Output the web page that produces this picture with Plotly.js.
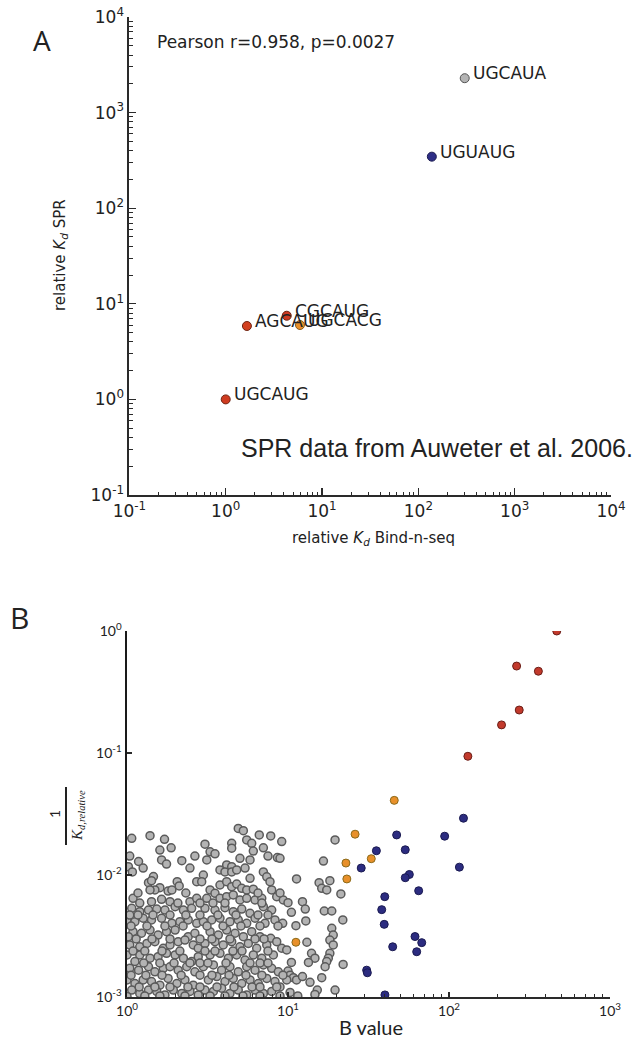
<!DOCTYPE html>
<html><head><meta charset="utf-8">
<script src="https://cdn.plot.ly/plotly-3.0.1.min.js"></script>
<style>html,body{margin:0;padding:0;background:#fff;}#chart{width:641px;height:1044px;}</style>
</head><body><div id="chart"></div>
<script>
// ---------- Panel A data ----------
const motifs = ['UGCAUG','AGCAUG','CGCAUG','UGCACG','UGUAUG','UGCAUA'];
const kdBindNSeq = [1.0, 1.66, 4.3, 5.9, 138, 303];
const kdSPR = [1.0, 5.86, 7.5, 6.0, 346, 2290];
const motifColors = ['#cf3b20','#d2401f','#cc3a22','#e8902a','#2e2e86','#b4b4b4'];
const motifEdges = ['#6e2412','#6e2412','#6e2412','#8a5a1a','#1a1a50','#555555'];
const tickValsA = [0.1, 1, 10, 100, 1000, 10000];
const tickTextA = ['10<sup>-1</sup>','10<sup>0</sup>','10<sup>1</sup>','10<sup>2</sup>','10<sup>3</sup>','10<sup>4</sup>'];

// ---------- Panel B data ----------
const redB = [467, 263, 359, 273, 212, 131];
const redK = [1.0, 0.516, 0.468, 0.225, 0.170, 0.094];
const orangeB = [45.7, 26.1, 32.9, 22.9, 23.2, 11.2];
const orangeK = [0.0409, 0.0216, 0.0136, 0.01253, 0.00928, 0.00281];
const blueB = [123, 47.3, 94, 35.4, 53.5, 28.5, 116, 56.7, 53.5, 64.8, 39.9, 38.2, 39.6, 61.5, 67.7, 44.7, 63, 30.8, 31.1, 40];
const blueK = [0.0292, 0.0213, 0.0208, 0.0158, 0.0161, 0.0114, 0.0116, 0.0101, 0.0095, 0.00743, 0.00664, 0.00520, 0.00394, 0.00313, 0.00279, 0.00258, 0.00235, 0.00166, 0.00158, 0.00104];
const grayB = [
 1.07,1.39,1.71,1.60,1.88,1.18,1.64,1.76,2.19,1.02,1.08,1.46,1.36,1.42,2.05,2.11,1.60,1.49,1.39,1.80,1.90,2.71,1.09,1.42,1.64,1.85,2.46,2.71,
 4.91,5.28,6.63,7.81,3.05,4.47,4.47,5.54,5.95,7.03,3.28,3.52,6.09,3.13,5.03,5.81,8.59,4.16,4.47,3.78,4.06,4.47,4.80,2.98,2.91,7.03,7.38,7.73,5.81,3.78,4.16,4.47,4.80,5.16,5.54,6.09,3.28,3.52,3.13,3.78,4.16,4.57,5.03,5.54,6.24,6.87,7.92,8.51,
 9.14,19.6,16.6,8.92,11.3,15.6,18.2,16.2,17.4,21.3,9.35,10.0,12.3,
 10.5,12.8,16.8,18.7,9.27,11.2,12.9,21.9,18.7,19.1,18.2,19.1,13.1,9.14,9.82,14.0,14.7,13.4,18.2,17.8,17.4,17.0,22.0,10.5,10.0,10.3,10.8,11.3,12.3,9.82,13.7,16.2,8.92,10.3,15.2,14.7,19.6,
 1.07,1.20,1.36,1.53,1.72,1.99,2.24,2.52,1.00,1.12,1.26,1.42,1.64,1.90,2.13,2.40,2.71,1.09,1.23,1.39,1.56,1.76,1.99,2.40,2.64,1.02,1.04,1.20,1.33,1.49,1.68,1.85,2.08,2.29,2.58,2.77,1.00,1.20,1.39,1.56,1.76,1.99,2.24,2.52,2.77,1.12,1.04,1.18,1.36,1.49,1.68,1.85,2.08,2.35,2.64,1.00,1.12,1.26,1.42,1.60,1.80,2.04,2.29,2.58,1.07,1.20,1.36,1.53,1.72,1.94,2.19,2.46,2.77,1.00,
 3.05,3.52,4.06,4.57,5.16,5.81,7.03,7.92,2.98,3.36,3.78,4.36,4.91,5.54,6.24,7.20,8.30,3.28,3.69,4.16,4.69,5.28,5.95,6.70,7.81,3.05,3.52,3.96,4.47,5.03,5.67,6.39,7.38,8.51,3.28,3.78,4.26,4.80,5.41,6.09,6.87,8.11,2.98,3.44,3.87,4.36,4.91,5.54,6.24,7.03,7.92,8.71,3.20,3.61,4.06,4.57,5.16,5.81,6.54,7.38,8.30,3.05,3.44,3.87,4.36,4.91,5.54,6.24,7.03,7.92,
 1.04,1.17,1.45,1.85,2.32,2.84,3.67,4.75,6.51,7.51,
 1.06,1.33,1.72,2.23,3.14,3.95,5.10,6.70,8.67,
 1.14,1.43,1.85,2.84,3.37,4.36,6.24,7.10,
 1.09,1.29,1.65,2.13,3.05,3.52,4.55,5.18,7.51,
 1.27,1.60,1.96,2.46,2.84,3.18,4.12,5.81,6.70,7.51,
 1.06,1.31,1.65,2.17,2.84,3.37,4.30,5.48,6.88,9.30,
 1.19,1.49,1.85,2.39,2.84,3.62,4.62,5.98,6.70,8.51,
 1.29,1.60,2.29,3.28,4.06,5.25,6.70,8.92,11.5,
 1.20,2.07,2.84,3.42,4.06,6.88,
 1.26,2.46,5.41,1.17,2.32,6.51,8.92,1.04,2.64,7.51
];
const grayK = [
 0.0200,0.0210,0.0196,0.0160,0.0167,0.0129,0.0133,0.0123,0.0131,0.0117,0.0106,0.0097,0.00865,0.00898,0.00881,0.00813,0.00787,0.00754,0.00754,0.00739,0.00754,0.00881,0.00644,0.00604,0.00632,0.00604,0.00604,0.00644,
 0.0241,0.0231,0.0213,0.0209,0.0179,0.0182,0.0166,0.0194,0.0182,0.0167,0.0155,0.0149,0.0157,0.0133,0.0137,0.0133,0.0139,0.0121,0.0117,0.0110,0.0106,0.0106,0.0110,0.0100,0.00881,0.0106,0.00967,0.00881,0.00940,0.00828,0.00881,0.00802,0.00844,0.00778,0.00754,0.00765,0.00754,0.00708,0.00644,0.00644,0.00664,0.00686,0.00624,0.00644,0.00624,0.00644,0.00754,0.00664,
 0.0188,0.0194,0.0130,0.0137,0.00928,0.00865,0.00898,0.00778,0.00754,0.00699,0.00624,0.00593,0.00604,
 0.00494,0.00526,0.00507,0.00507,0.00402,0.00384,0.00420,0.00428,0.00366,0.00322,0.00293,0.00267,0.00281,0.00251,0.00243,0.00228,0.00208,0.00192,0.00228,0.00208,0.00195,0.00177,0.00185,0.00192,0.00163,0.00151,0.00144,0.00138,0.00147,0.00138,0.00132,0.00144,0.00121,0.00109,0.00114,0.00105,0.00114,
 0.00533,0.00500,0.00516,0.00526,0.00516,0.00550,0.00516,0.00533,0.00428,0.00414,0.00442,0.00428,0.00442,0.00402,0.00414,0.00428,0.00402,0.00343,0.00333,0.00354,0.00322,0.00343,0.00354,0.00312,0.00333,0.00312,0.00267,0.00258,0.00275,0.00284,0.00251,0.00267,0.00284,0.00293,0.00267,0.00251,0.00221,0.00221,0.00208,0.00214,0.00228,0.00221,0.00208,0.00195,0.00214,0.00195,0.00172,0.00166,0.00177,0.00161,0.00172,0.00177,0.00166,0.00177,0.00161,0.00138,0.00129,0.00138,0.00134,0.00125,0.00142,0.00129,0.00138,0.00125,0.00114,0.00107,0.00114,0.00111,0.00104,0.00114,0.00107,0.00111,0.00104,0.00101,
 0.00533,0.00516,0.00540,0.00500,0.00526,0.00485,0.00550,0.00516,0.00414,0.00428,0.00442,0.00414,0.00428,0.00402,0.00442,0.00402,0.00428,0.00343,0.00322,0.00354,0.00333,0.00312,0.00343,0.00312,0.00303,0.00275,0.00284,0.00267,0.00284,0.00258,0.00275,0.00251,0.00267,0.00284,0.00221,0.00228,0.00208,0.00221,0.00201,0.00221,0.00208,0.00221,0.00177,0.00183,0.00166,0.00177,0.00161,0.00177,0.00166,0.00183,0.00172,0.00161,0.00138,0.00147,0.00134,0.00142,0.00129,0.00138,0.00129,0.00142,0.00134,0.00114,0.00111,0.00118,0.00107,0.00114,0.00104,0.00114,0.00107,0.00111,
 0.00470,0.00470,0.00470,0.00470,0.00470,0.00470,0.00470,0.00470,0.00470,0.00470,
 0.00382,0.00382,0.00382,0.00382,0.00382,0.00382,0.00382,0.00382,0.00382,
 0.00299,0.00299,0.00299,0.00299,0.00299,0.00299,0.00299,0.00299,
 0.00238,0.00238,0.00238,0.00238,0.00238,0.00238,0.00238,0.00238,0.00238,
 0.00190,0.00190,0.00190,0.00190,0.00190,0.00190,0.00190,0.00190,0.00190,0.00190,
 0.00151,0.00151,0.00151,0.00151,0.00151,0.00151,0.00151,0.00151,0.00151,0.00151,
 0.00121,0.00121,0.00121,0.00121,0.00121,0.00121,0.00121,0.00121,0.00121,0.00121,
 0.00102,0.00102,0.00102,0.00102,0.00102,0.00102,0.00102,0.00102,0.00102,
 0.00589,0.00589,0.00589,0.00589,0.00589,0.00589,
 0.0114,0.0114,0.0114,0.00712,0.00712,0.00712,0.00712,0.0143,0.0143,0.0143
];
const tickValsBx = [1, 10, 100, 1000];
const tickTextBx = ['10<sup>0</sup>','10<sup>1</sup>','10<sup>2</sup>','10<sup>3</sup>'];
const tickValsBy = [0.001, 0.01, 0.1, 1];
const tickTextBy = ['10<sup>-3</sup>','10<sup>-2</sup>','10<sup>-1</sup>','10<sup>0</sup>'];

// ---------- helpers ----------
const W = 641, H = 1044;
const px = x => x / W;
const py = y => 1 - y / H;
function minorVals(lo, hi) { const v = []; for (let d = lo; d < hi; d++) for (let k = 2; k <= 9; k++) v.push(k * Math.pow(10, d)); return v; }

const fontA = 'DejaVu Sans, sans-serif';
const fontB = 'Lato, Open Sans, sans-serif';

const traces = [
  {x: kdBindNSeq, y: kdSPR, xaxis: 'x', yaxis: 'y', type: 'scatter', mode: 'markers',
   marker: {size: 9, color: motifColors, line: {color: motifEdges, width: 1}}, hoverinfo: 'skip'},
  {x: grayB, y: grayK, xaxis: 'x2', yaxis: 'y2', type: 'scatter', mode: 'markers',
   marker: {size: 8, color: '#b3b3b3', line: {color: '#5a5a5a', width: 1.5}}, hoverinfo: 'skip'},
  {x: orangeB, y: orangeK, xaxis: 'x2', yaxis: 'y2', type: 'scatter', mode: 'markers',
   marker: {size: 8, color: '#e8902a', line: {color: '#8a6a1a', width: 1}}, hoverinfo: 'skip'},
  {x: blueB, y: blueK, xaxis: 'x2', yaxis: 'y2', type: 'scatter', mode: 'markers',
   marker: {size: 8, color: '#2c2c80', line: {color: '#1a1a50', width: 1}}, hoverinfo: 'skip'},
  {x: redB, y: redK, xaxis: 'x2', yaxis: 'y2', type: 'scatter', mode: 'markers',
   marker: {size: 8, color: '#c23a2c', line: {color: '#6a1f18', width: 1}}, hoverinfo: 'skip'}
];

function axisCommon(font, size) {
  return {type: 'log', showline: true, linecolor: '#2a2a2a', linewidth: 2, showgrid: false, zeroline: false,
    ticks: 'inside', ticklen: 7, tickwidth: 1.2, tickcolor: '#2a2a2a', tickmode: 'array',
    tickfont: {family: font, size: size, color: '#222'}};
}

function note(text, x, y, font, size, extra) {
  return Object.assign({text: text, x: px(x), y: py(y), xref: 'paper', yref: 'paper', xanchor: 'center', yanchor: 'middle',
    showarrow: false, font: {family: font, size: size, color: '#222'}}, extra || {});
}

const layout = {
  width: W, height: H, margin: {l: 0, r: 0, t: 0, b: 0},
  paper_bgcolor: '#fff', plot_bgcolor: 'rgba(0,0,0,0)', showlegend: false,
  xaxis: Object.assign(axisCommon(fontA, 17), {range: [-1, 4], domain: [px(129.4), px(611)], anchor: 'y',
    tickvals: tickValsA, ticktext: tickTextA,
    minor: {tickmode: 'array', tickvals: minorVals(-1, 4), ticks: 'inside', ticklen: 3.5, tickcolor: '#2a2a2a', tickwidth: 1}}),
  yaxis: Object.assign(axisCommon(fontA, 17), {range: [-1, 4], domain: [py(495), py(17)], anchor: 'x',
    tickvals: tickValsA, ticktext: tickTextA,
    minor: {tickmode: 'array', tickvals: minorVals(-1, 4), ticks: 'inside', ticklen: 3.5, tickcolor: '#2a2a2a', tickwidth: 1}}),
  xaxis2: Object.assign(axisCommon(fontB, 14), {range: [0, 3], domain: [px(127), px(610)], anchor: 'y2',
    tickvals: tickValsBx, ticktext: tickTextBx, ticklen: 5,
    minor: {tickmode: 'array', tickvals: minorVals(0, 3), ticks: 'inside', ticklen: 3, tickcolor: '#2a2a2a', tickwidth: 1}}),
  yaxis2: Object.assign(axisCommon(fontB, 14), {range: [-3, 0], domain: [py(997), py(631)], anchor: 'x2',
    tickvals: tickValsBy, ticktext: tickTextBy, ticklen: 5, linewidth: 2.5, linecolor: '#1a1a1a'}),
  shapes: [
    {type: 'line', xref: 'paper', yref: 'paper', x0: px(66), x1: px(66), y0: py(787), y1: py(845), line: {color: '#222', width: 2}}
  ],
  annotations: [
    note('A', 42, 40, 'Open Sans, sans-serif', 28),
    note('Pearson r=0.958, p=0.0027', 155, 42, fontA, 17, {xanchor: 'left'}),
    note('SPR data from Auweter et al. 2006.', 239, 448, 'Liberation Sans, Arial, sans-serif', 25, {xanchor: 'left'}),
    note('relative <i>K</i><sub><i>d</i></sub> Bind-n-seq', 373, 538, fontA, 15),
    note('relative <i>K</i><sub><i>d</i></sub> SPR', 61, 255, fontA, 15, {textangle: -90}),
    note('B', 19, 617, 'Open Sans, sans-serif', 30),
    note('B value', 371, 1027, fontB, 20),
    note('1', 54, 814, fontB, 14, {textangle: -90}),
    note('<i>K</i><sub><i>d,relative</i></sub>', 78, 816, 'Liberation Serif, serif', 15, {textangle: -90})
  ],
  font: {family: fontA, color: '#222'}
};

motifs.forEach((m, i) => {
  layout.annotations.push({text: m, x: Math.log10(kdBindNSeq[i]), y: Math.log10(kdSPR[i]), xref: 'x', yref: 'y',
    xanchor: 'left', yanchor: 'middle', xshift: 6, yshift: 5, showarrow: false,
    font: {family: fontA, size: 17, color: '#222'}});
});

Plotly.newPlot('chart', traces, layout, {staticPlot: true, displayModeBar: false});
</script></body></html>
